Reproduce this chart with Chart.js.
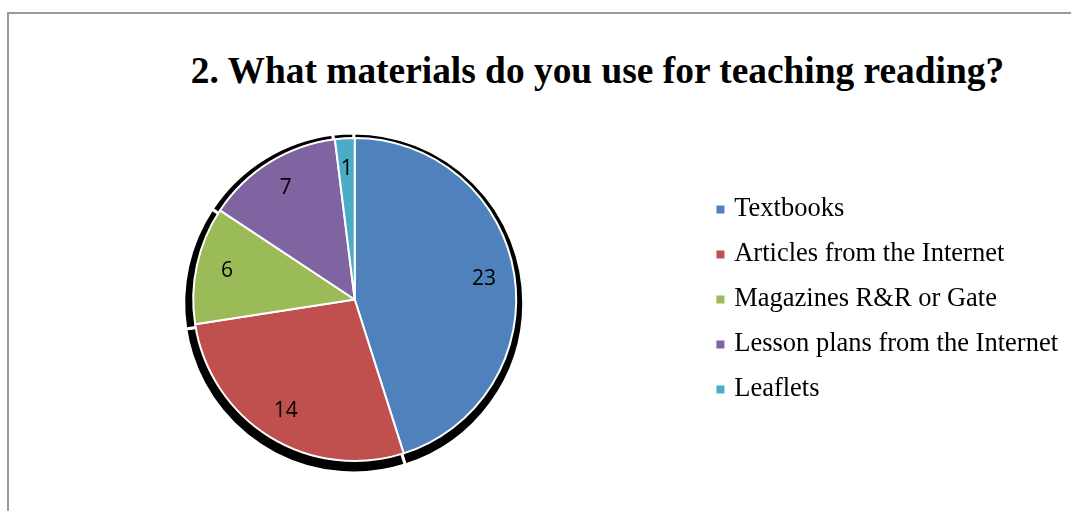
<!DOCTYPE html>
<html>
<head>
<meta charset="utf-8">
<script src="https://cdn.jsdelivr.net/npm/chart.js@4"></script>
<style>
  html, body { margin: 0; padding: 0; background: #fff; }
  #wrap { position: relative; width: 1071px; height: 511px; overflow: hidden; }
  #frame {
    position: absolute; left: 7px; top: 12px; width: 1200px; height: 600px;
    border-left: 2px solid #9a9a9a; border-top: 2px solid #9a9a9a;
  }
  #title {
    position: absolute; left: 124px; right: 0; top: 52px;
    text-align: center; font: bold 37.4px/38px "Liberation Serif", "Times New Roman", serif;
    color: #000; white-space: nowrap;
  }
  #pie { position: absolute; left: 0; top: 0; }
</style>
</head>
<body>
<div id="wrap">
  <div id="frame"></div>
  <div id="title">2. What materials do you use for teaching reading?</div>
  <canvas id="pie" width="1071" height="511"></canvas>
</div>
<script>
// ── DATA ───────────────────────────────────────────────────────
const labels = ['Textbooks', 'Articles from the Internet', 'Magazines R&R or Gate', 'Lesson plans from the Internet', 'Leaflets'];
const counts = [23, 14, 6, 7, 1];
const colors = ['#4f81bd', '#c0504d', '#9bbb59', '#8064a2', '#4bacc6'];

// black drop shadow behind each slice, a little larger and shifted down
const sliceShadow = {
  id: 'sliceShadow',
  beforeDatasetsDraw(chart) {
    const ctx = chart.ctx;
    const arcs = chart.getDatasetMeta(0).data;
    ctx.save();
    arcs.forEach(a => {
      const { x, y, startAngle, endAngle, outerRadius } = a.getProps(['x', 'y', 'startAngle', 'endAngle', 'outerRadius'], true);
      const cx = x - 1, cy = y + 3.5;
      ctx.beginPath();
      ctx.moveTo(cx, cy);
      ctx.arc(cx, cy, outerRadius + 8.5, startAngle, endAngle);
      ctx.closePath();
      ctx.fillStyle = '#000';
      ctx.fill();
      ctx.lineWidth = 3;
      ctx.strokeStyle = '#fff';
      ctx.stroke();
    });
    ctx.restore();
  }
};

// value labels inside the slices
const sliceLabels = {
  id: 'sliceLabels',
  afterDatasetsDraw(chart) {
    const ctx = chart.ctx;
    const meta = chart.getDatasetMeta(0);
    const values = chart.data.datasets[0].data;
    ctx.save();
    ctx.font = '21px "Open Sans", sans-serif';
    ctx.fillStyle = '#000';
    ctx.textAlign = 'center';
    ctx.textBaseline = 'middle';
    meta.data.forEach((a, i) => {
      const { x, y, startAngle, endAngle, outerRadius } = a.getProps(['x', 'y', 'startAngle', 'endAngle', 'outerRadius'], true);
      const mid = (startAngle + endAngle) / 2;
      const r = outerRadius * 0.81;
      ctx.fillText(String(values[i]), x + Math.cos(mid) * r, y + Math.sin(mid) * r);
    });
    ctx.restore();
  }
};

new Chart(document.getElementById('pie'), {
  type: 'pie',
  data: {
    labels,
    datasets: [{
      data: counts,
      backgroundColor: colors,
      borderColor: '#fff',
      borderWidth: 2,
    }]
  },
  options: {
    responsive: false,
    animation: false,
    layout: { padding: { left: 8, top: 137, bottom: 49, right: 3 } },
    plugins: {
      tooltip: { enabled: false },
      legend: {
        position: 'right',
        labels: {
          color: '#000',
          font: { family: 'Liberation Serif', size: 26.5 },
          usePointStyle: true,
          pointStyle: 'rect',
          boxWidth: 1,
          boxHeight: 10,
          padding: 18.5,
        }
      }
    }
  },
  plugins: [sliceShadow, sliceLabels]
});
</script>
</body>
</html>
